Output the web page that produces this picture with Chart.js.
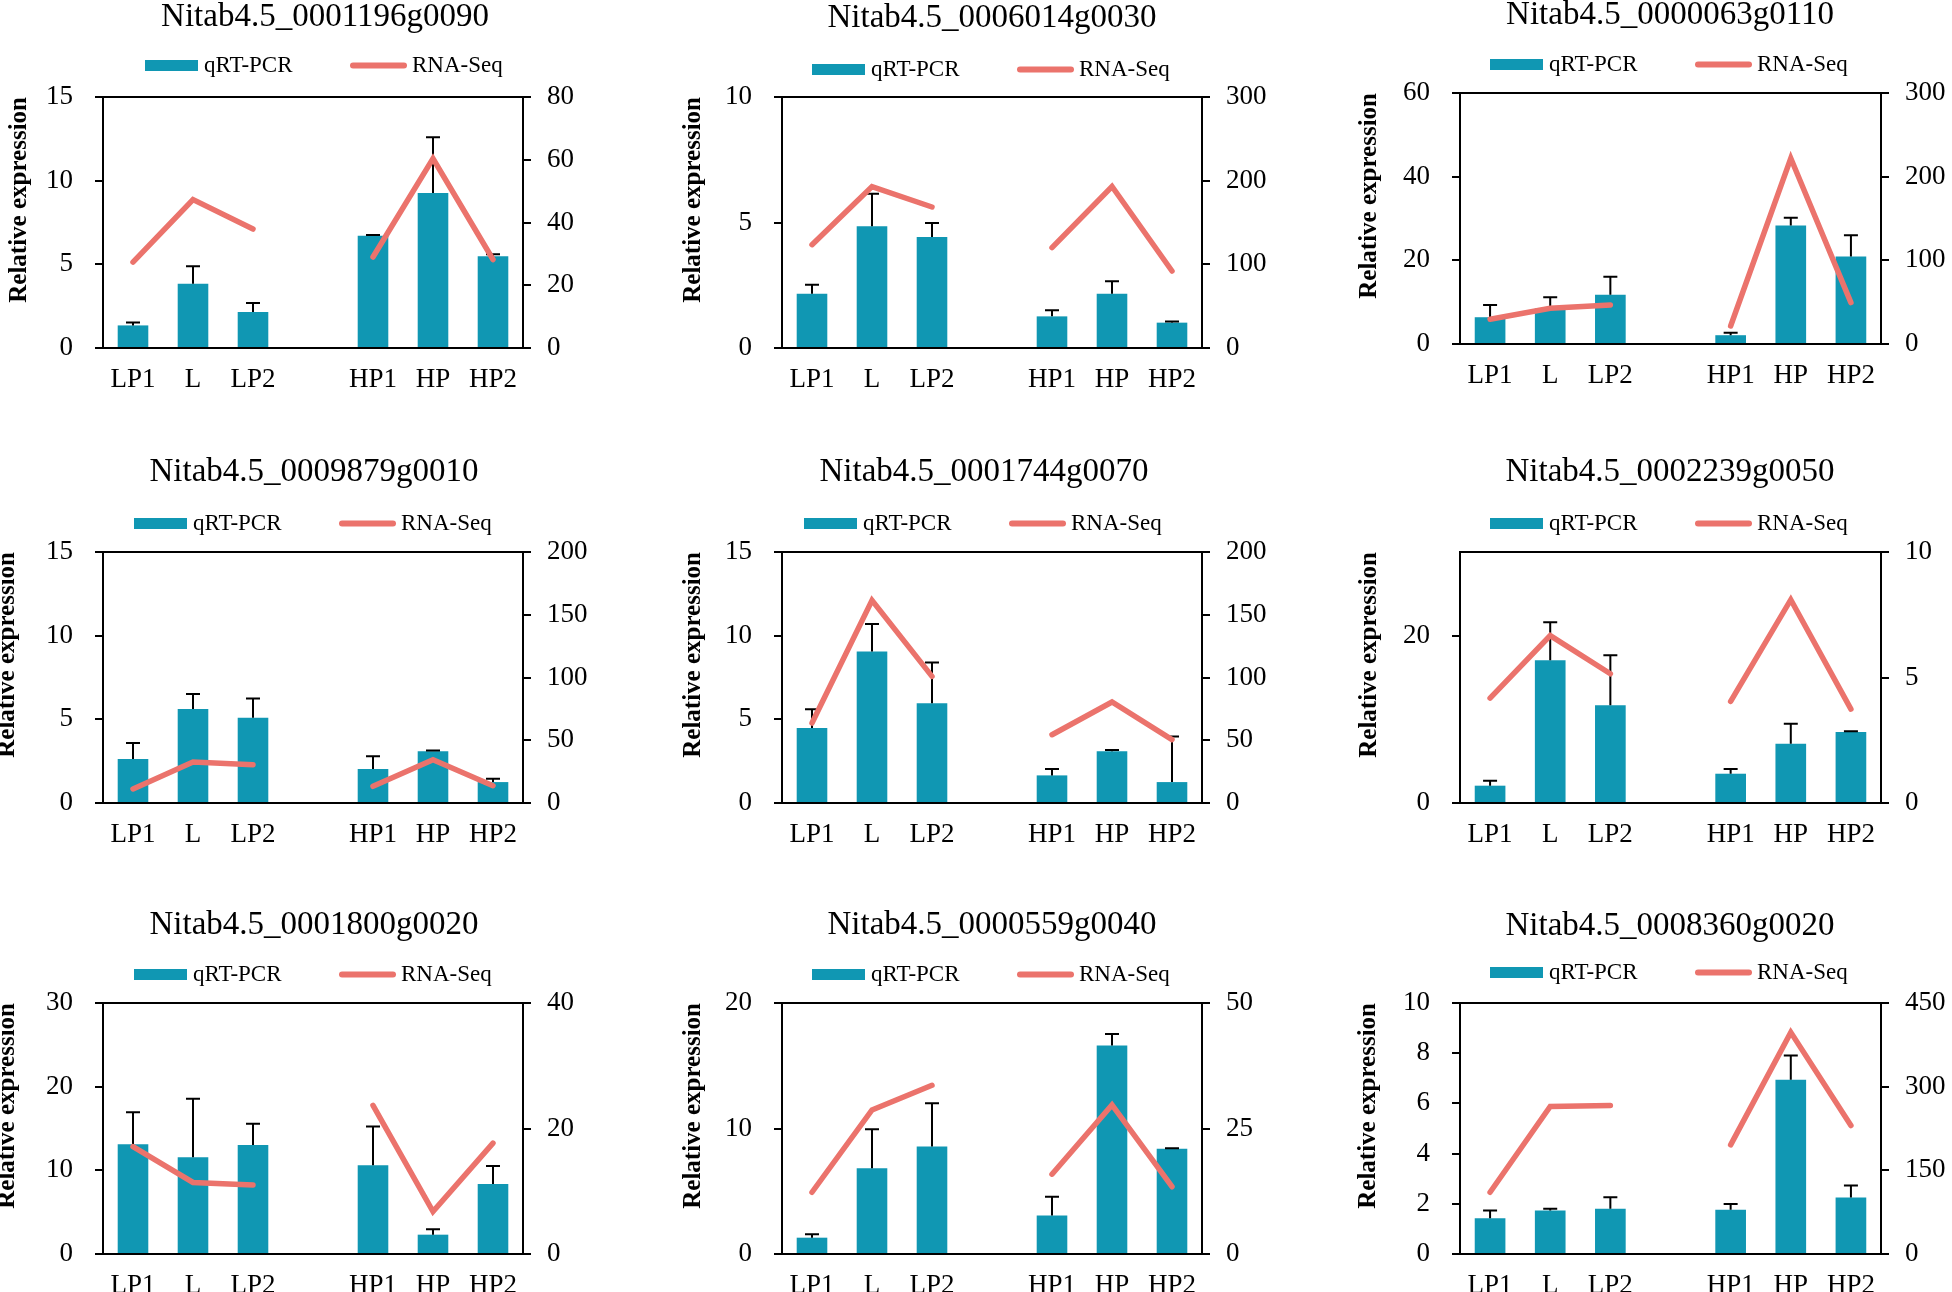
<!DOCTYPE html>
<html lang="pt-BR">
<head>
<meta charset="utf-8">
<title>qRT-PCR x RNA-Seq</title>
<script src="https://cdn.jsdelivr.net/npm/chart.js@4/dist/chart.umd.min.js"></script>
<style>
  html, body { margin: 0; padding: 0; background: #fff; overflow: hidden; }
  #pagina { position: relative; width: 1952px; height: 1292px; overflow: hidden; background: #fff; }
</style>
</head>
<body>
<div id="pagina"></div>
<script>
// ========= Seleção rápida de elementos =========
const $ = (sel) => document.querySelector(sel);

// ========= Dados =========
// a 4ª categoria é o espaço vazio entre os grupos L e H
const categorias = ["LP1", "L", "LP2", "", "HP1", "HP", "HP2"];

const genes = [
  "Nitab4.5_0001196g0090", "Nitab4.5_0006014g0030", "Nitab4.5_0000063g0110",
  "Nitab4.5_0009879g0010", "Nitab4.5_0001744g0070", "Nitab4.5_0002239g0050",
  "Nitab4.5_0001800g0020", "Nitab4.5_0000559g0040", "Nitab4.5_0008360g0020",
];

// qRT-PCR (barras, eixo esquerdo)
const qpcr = [
  [1.35, 3.84, 2.15, null, 6.71, 9.26, 5.48],
  [2.16, 4.85, 4.42, null, 1.26, 2.16, 1.01],
  [6.4, 8.5, 11.8, null, 2.1, 28.3, 20.9],
  [2.63, 5.62, 5.10, null, 2.03, 3.09, 1.25],
  [4.48, 9.06, 5.96, null, 1.65, 3.09, 1.25],
  [2.07, 17.05, 11.67, null, 3.5, 7.09, 8.49],
  [13.12, 11.57, 13.04, null, 10.61, 2.31, 8.38],
  [1.30, 6.84, 8.56, null, 3.06, 16.62, 8.38],
  [1.42, 1.73, 1.80, null, 1.76, 6.94, 2.25],
];

// barra de erro (só para cima)
const qpcrErro = [
  [0.18, 1.04, 0.54, null, 0.04, 3.34, 0.12],
  [0.36, 1.30, 0.56, null, 0.24, 0.50, 0.05],
  [2.9, 2.7, 4.3, null, 0.6, 1.9, 5.1],
  [0.96, 0.89, 1.14, null, 0.76, 0.04, 0.20],
  [1.12, 1.64, 2.43, null, 0.38, 0.08, 2.73],
  [0.6, 4.55, 5.98, null, 0.56, 2.39, 0.08],
  [3.83, 6.98, 2.52, null, 4.63, 0.64, 2.15],
  [0.27, 3.11, 3.46, null, 1.51, 0.91, 0.05],
  [0.31, 0.07, 0.46, null, 0.23, 0.97, 0.48],
];

// RNA-Seq (linha, eixo direito)
const rnaSeq = [
  [27.4, 47.3, 37.9, null, 29.0, 60.4, 28.2],
  [123.5, 193, 168.5, null, 120, 193, 92],
  [29.5, 42.7, 46.7, null, 21.5, 222, 49.5],
  [11.2, 32.7, 30.5, null, 13.3, 34.5, 13.8],
  [63.7, 161.5, 100.9, null, 54.4, 80.5, 50.5],
  [4.18, 6.67, 5.15, null, 4.05, 8.10, 3.74],
  [17.1, 11.4, 11.0, null, 23.7, 6.76, 17.66],
  [12.3, 28.7, 33.6, null, 15.9, 29.7, 13.4],
  [110.7, 264.5, 266.3, null, 195.7, 397.4, 230.4],
];

// marcas dos eixos
const ticksEsq = [
  [0, 5, 10, 15], [0, 5, 10], [0, 20, 40, 60],
  [0, 5, 10, 15], [0, 5, 10, 15], [0, 20],
  [0, 10, 20, 30], [0, 10, 20], [0, 2, 4, 6, 8, 10],
];
const maxEsq = [15, 10, 60, 15, 15, 30, 30, 20, 10];
const ticksDir = [
  [0, 20, 40, 60, 80], [0, 100, 200, 300], [0, 100, 200, 300],
  [0, 50, 100, 150, 200], [0, 50, 100, 150, 200], [0, 5, 10],
  [0, 20, 40], [0, 25, 50], [0, 150, 300, 450],
];

// ========= Posição de cada painel na página (px) =========
const centroX = [325, 992, 1670, 314, 984, 1670, 314, 992, 1670];
const eixoEsqX = [103, 782, 1460, 103, 782, 1460, 103, 782, 1460];
const eixoDirX = [523, 1202, 1881, 523, 1202, 1881, 523, 1202, 1881];
const topoY = [97, 97, 93, 552, 552, 552, 1003, 1003, 1003];
const baseY = [348, 348, 344, 803, 803, 803, 1254, 1254, 1254];
const tituloY = [28, 29, 26, 483, 483, 483, 936, 936, 937]; // linha de base do título
const legendaY = [72, 76, 71, 530, 530, 530, 981, 981, 979]; // linha de base da legenda
const rotuloX = [22, 696, 1372, 10, 696, 1372, 10, 696, 1371]; // centro do "Relative expression"

// ========= Estilo =========
const SERIF = "'Liberation Serif', 'Times New Roman', serif";
const AZUL = "#1097B3";
const SALMAO = "#EB736C";
const LARG = 660;
const ESPACO_TOPO = 100;
const ALT_EIXO_X = 60;

// ========= Plugins =========
// barras de erro (desenhadas antes da linha)
const barrasErro = {
  id: "barrasErro",
  afterDatasetDraw(chart, args) {
    if (args.meta.type !== "bar") return;
    const ds = chart.data.datasets[args.index];
    const esc = chart.scales[args.meta.yAxisID];
    const ctx = chart.ctx;
    ctx.save();
    ctx.strokeStyle = "#000";
    ctx.lineWidth = 2;
    args.meta.data.forEach((barra, k) => {
      const v = ds.data[k];
      const e = ds.erros[k];
      if (v == null || e == null) return;
      const yTopo = esc.getPixelForValue(v + e);
      ctx.beginPath();
      ctx.moveTo(barra.x, barra.y);
      ctx.lineTo(barra.x, yTopo);
      ctx.moveTo(barra.x - 7, yTopo);
      ctx.lineTo(barra.x + 7, yTopo);
      ctx.stroke();
    });
    ctx.restore();
  },
};

// moldura de cima + legenda
const decorPainel = {
  id: "decorPainel",
  afterDraw(chart, args, opts) {
    const { ctx, chartArea } = chart;
    ctx.save();
    ctx.strokeStyle = "#000";
    ctx.lineWidth = 2;
    ctx.beginPath();
    ctx.moveTo(chartArea.left, chartArea.top);
    ctx.lineTo(chartArea.right, chartArea.top);
    ctx.stroke();

    const cx = chart.width / 2;
    const yb = opts.legendaY;
    const [barras, linha] = chart.data.datasets;
    ctx.fillStyle = barras.backgroundColor;
    ctx.fillRect(cx - 180, yb - 12, 53, 11);
    ctx.strokeStyle = linha.borderColor;
    ctx.lineWidth = 6;
    ctx.lineCap = "round";
    ctx.beginPath();
    ctx.moveTo(cx + 28, yb - 6.5);
    ctx.lineTo(cx + 79, yb - 6.5);
    ctx.stroke();

    ctx.fillStyle = "#000";
    ctx.font = `23px ${SERIF}`;
    ctx.textAlign = "left";
    ctx.textBaseline = "alphabetic";
    ctx.fillText(barras.label, cx - 121, yb);
    ctx.fillText(linha.label, cx + 87, yb);
    ctx.restore();
  },
};

// ========= Montagem dos 9 gráficos =========
function montarPainel(gene, i) {
  const x0 = centroX[i] - LARG / 2;
  const y0 = topoY[i] - ESPACO_TOPO;
  const alt = baseY[i] - topoY[i] + ESPACO_TOPO + ALT_EIXO_X;

  const canvas = document.createElement("canvas");
  canvas.width = LARG;
  canvas.height = alt;
  canvas.style.cssText = `position:absolute;left:${x0}px;top:${y0}px;width:${LARG}px;height:${alt}px`;
  $("#pagina").appendChild(canvas);

  // título: meio do texto = linha de base - 0.34 em
  const meioTitulo = tituloY[i] - 0.3375 * 33 - y0;
  const padTitulo = Math.max(0, meioTitulo - 19.8);

  const eixoY = (ticks, max, lado, largura, pad) => ({
    position: lado,
    min: 0,
    max,
    afterBuildTicks: (s) => { s.ticks = ticks.map((v) => ({ value: v })); },
    afterFit: (s) => { s.width = largura; },
    grid: { drawOnChartArea: false, color: "#000", lineWidth: 2, tickLength: 8 },
    border: { display: true, color: "#000", width: 2 },
    ticks: { color: "#000", font: { family: SERIF, size: 27 }, padding: pad },
  });

  const escEsq = eixoY(ticksEsq[i], maxEsq[i], "left", eixoEsqX[i] - x0, 22);
  escEsq.title = {
    display: true,
    text: "Relative expression",
    align: "end",
    color: "#000",
    font: { family: SERIF, size: 25, weight: "bold" },
    padding: { top: rotuloX[i] - 2.7 - x0 - 15, bottom: 0 },
  };
  const escDir = eixoY(ticksDir[i], ticksDir[i][ticksDir[i].length - 1], "right", x0 + LARG - eixoDirX[i], 16);

  new Chart(canvas, {
    type: "bar",
    data: {
      labels: categorias,
      datasets: [
        {
          type: "bar",
          label: "qRT-PCR",
          data: qpcr[i],
          erros: qpcrErro[i],
          backgroundColor: AZUL,
          borderWidth: 0,
          barPercentage: 0.51,
          categoryPercentage: 1,
          yAxisID: "y",
          order: 1,
        },
        {
          type: "line",
          label: "RNA-Seq",
          data: rnaSeq[i],
          borderColor: SALMAO,
          backgroundColor: SALMAO,
          borderWidth: 5.5,
          borderCapStyle: "round",
          borderJoinStyle: "miter",
          pointRadius: 0,
          pointHoverRadius: 0,
          tension: 0,
          spanGaps: false,
          yAxisID: "y1",
          order: 0,
        },
      ],
    },
    options: {
      responsive: false,
      animation: false,
      events: [],
      layout: { padding: 0 },
      plugins: {
        legend: { display: false },
        tooltip: { enabled: false },
        title: {
          display: true,
          text: gene,
          color: "#000",
          font: { family: SERIF, size: 33, weight: "normal" },
          padding: { top: padTitulo, bottom: ESPACO_TOPO - padTitulo - 39.6 },
        },
        decorPainel: { legendaY: legendaY[i] - y0 },
      },
      scales: {
        x: {
          type: "category",
          offset: true,
          grid: { display: false },
          border: { display: true, color: "#000", width: 2 },
          ticks: {
            color: "#000",
            font: { family: SERIF, size: 27 },
            padding: 8,
            autoSkip: false,
            maxRotation: 0,
          },
          afterFit: (s) => { s.height = ALT_EIXO_X; },
        },
        y: escEsq,
        y1: escDir,
      },
    },
    plugins: [barrasErro, decorPainel],
  });
}

genes.forEach(montarPainel);
</script>
</body>
</html>
